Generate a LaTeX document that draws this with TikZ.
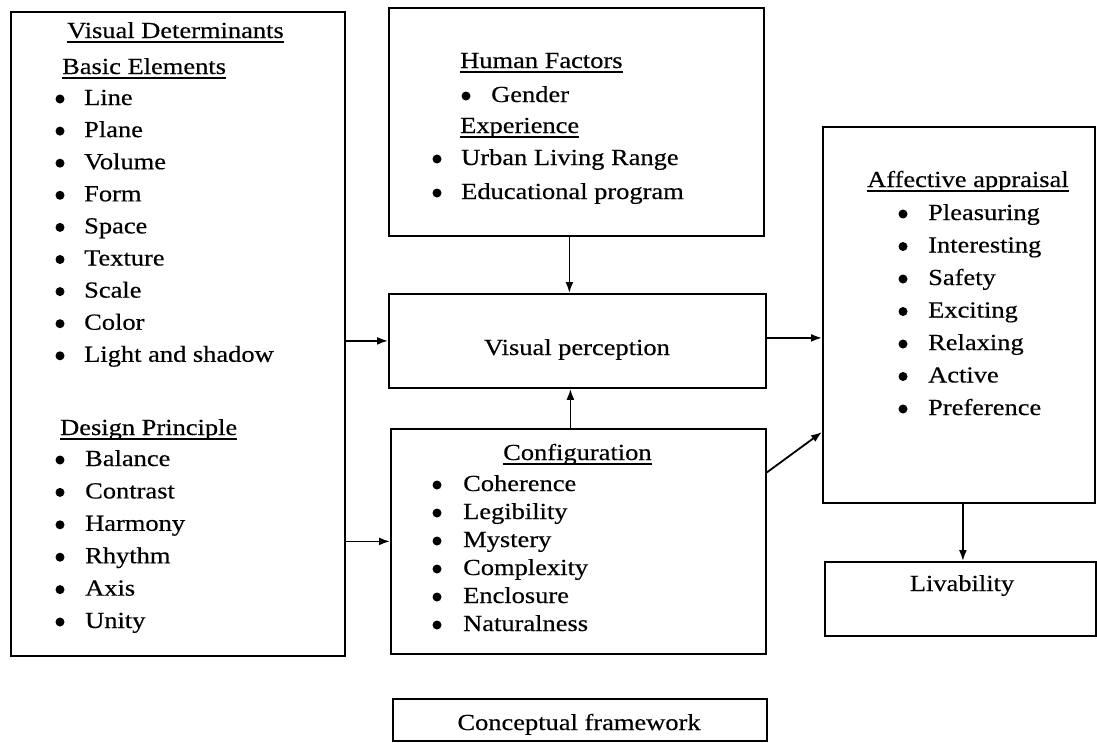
\documentclass[tikz,border=0pt]{standalone}
\usepackage{fontspec}
\setmainfont[FakeStretch=1.15,FakeBold=0.4]{Liberation Serif}
\usetikzlibrary{arrows.meta,calc}
\newcommand\myul[1]{\setbox0\hbox{#1}\rlap{\rule[-4.5pt]{\wd0}{1.4pt}}\box0}
\begin{document}
\begin{tikzpicture}[x=1pt,y=-1pt,
  box/.style={draw, line width=1.8pt, rectangle, inner sep=0pt, anchor=north west},
  txt/.style={anchor=base west, inner sep=0pt, font=\fontsize{23}{27}\selectfont},
  ctxt/.style={txt, anchor=base},
  arr/.style={line width=1.8pt, -{Latex[length=11pt,width=8pt]}}]
\useasboundingbox (0,0) rectangle (1097,742);

% boxes
\node[box, minimum width=334pt, minimum height=644pt] (left) at (10,11) {};
\node[box, minimum width=375pt, minimum height=228pt] (human) at (388,7) {};
\node[box, minimum width=377pt, minimum height=94pt] (vp) at (388,293) {};
\node[box, minimum width=375pt, minimum height=225pt] (cfg) at (390,428) {};
\node[box, minimum width=374pt, minimum height=42pt] (concept) at (392,698) {};
\node[box, minimum width=272pt, minimum height=376pt] (aff) at (822,126) {};
\node[box, minimum width=271pt, minimum height=74pt] (liv) at (824,561) {};

% left box
\node[txt] (vd) at (67,38) {\myul{Visual Determinants}};
\node[txt] (be) at (62,74) {\myul{Basic Elements}};
\foreach \t [count=\i] in {Line,Plane,Volume,Form,Space,Texture,Scale,Color,Light and shadow}{
  \node[txt] (bi\i) at (84,{105+32.1*(\i-1)}) {\t};
  \fill (60,{99+32.1*(\i-1)}) circle[radius=4.5pt];
}
\node[txt] (dp) at (60,435) {\myul{Design Principle}};
\foreach \t [count=\i] in {Balance,Contrast,Harmony,Rhythm,Axis,Unity}{
  \node[txt] (di\i) at (85,{466+32.4*(\i-1)}) {\t};
  \fill (60,{460+32.4*(\i-1)}) circle[radius=4.5pt];
}

% human factors
\node[txt] (hf) at (460,68) {\myul{Human Factors}};
\node[txt] (gen) at (491,102) {Gender};
\fill (466,96) circle[radius=4.5pt];
\node[txt] (exp) at (460,133) {\myul{Experience}};
\node[txt] (ulr) at (461,165) {Urban Living Range};
\fill (437,159) circle[radius=4.5pt];
\node[txt] (edu) at (461,199) {Educational program};
\fill (437,193) circle[radius=4.5pt];

% visual perception
\node[ctxt] (vpt) at (577,355) {Visual perception};

% configuration
\node[txt] (cft) at (503,460) {\myul{Configuration}};
\foreach \t [count=\i] in {Coherence,Legibility,Mystery,Complexity,Enclosure,Naturalness}{
  \node[txt] (ci\i) at (463,{491+28*(\i-1)}) {\t};
  \fill (437,{485+28*(\i-1)}) circle[radius=4.5pt];
}

% conceptual framework
\node[ctxt] (cpt) at (579,730) {Conceptual framework};

% affective appraisal
\node[txt] (aft) at (867,187) {\myul{Affective appraisal}};
\foreach \t [count=\i] in {Pleasuring,Interesting,Safety,Exciting,Relaxing,Active,Preference}{
  \node[txt] (ai\i) at (928,{220+32.5*(\i-1)}) {\t};
  \fill (903,{214+32.5*(\i-1)}) circle[radius=4.5pt];
}

% livability
\node[ctxt] (livt) at (962,591) {Livability};

% connectors
\draw[arr] (left.east |- vp.west) -- (vp.west);
\draw[arr] (left.east |- cfg.west) -- (cfg.west);
\draw[arr] ([xshift=-7pt]human.south) -- ([xshift=-7pt]human.south |- vp.north);
\draw[arr] ([xshift=-8pt]cfg.north) -- ([xshift=-8pt]cfg.north |- vp.south);
\draw[arr] ([yshift=3pt]vp.east) -- ([yshift=3pt]vp.east -| aff.west);
\draw[arr] ($(cfg.north east)!0.196!(cfg.south east)$) -- ($(aff.north west)!0.81!(aff.south west)$);
\draw[arr] ([xshift=4pt]aff.south) -- ([xshift=4pt]aff.south |- liv.north);
\end{tikzpicture}
\end{document}
